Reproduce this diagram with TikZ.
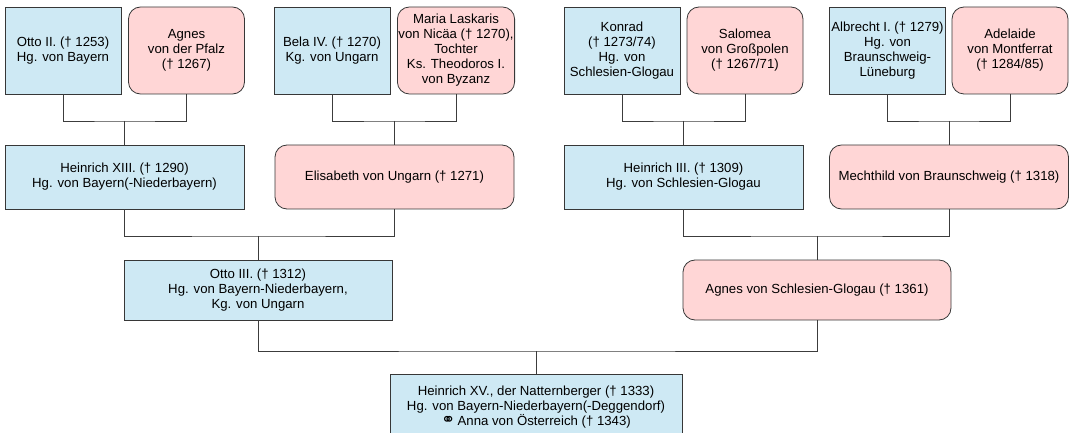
\documentclass[tikz,border=0pt]{standalone}
\usepackage{fontspec}
\setmainfont{Liberation Sans}
\newfontfamily\symfont{DejaVu Sans}
\definecolor{manfill}{RGB}{206,233,244}
\definecolor{womanfill}{RGB}{255,214,214}
\definecolor{boxline}{RGB}{55,55,55}
\definecolor{linkline}{RGB}{60,60,60}
\begin{document}
\begin{tikzpicture}[x=1pt,y=-1pt,
        font=\fontsize{13.2}{15}\selectfont,
        man/.style 2 args={draw=boxline, line width=0.8pt, fill=manfill, align=center,
            inner sep=1pt, minimum width=#1, minimum height=#2},
        woman/.style 2 args={man={#1}{#2}, fill=womanfill, rounded corners=12pt},
        link/.style={draw=linkline, line width=0.9pt}]
            \useasboundingbox (0,0) rectangle (1072,433);

            % grandparents
            \node[man={116pt}{87pt}] (OttoII) at (63,50.5) {Otto II. (\textdagger{} 1253)\\Hg. von Bayern};
            \node[woman={116pt}{87pt}] (AgnesP) at (186.5,50.5) {Agnes\\von der Pfalz\\(\textdagger{} 1267)};
            \node[man={116pt}{87pt}] (BelaIV) at (332,50.5) {Bela IV. (\textdagger{} 1270)\\Kg. von Ungarn};
            \node[woman={116pt}{87pt}] (MariaL) at (456,50.5) {Maria Laskaris\\von Nicäa (\textdagger{} 1270),\\Tochter\\Ks. Theodoros I.\\von Byzanz};
            \node[man={116pt}{87pt}] (Konrad) at (622,50.5) {Konrad\\(\textdagger{} 1273/74)\\Hg. von\\Schlesien-Glogau};
            \node[woman={116pt}{87pt}] (Salomea) at (745,50.5) {Salomea\\von Großpolen\\(\textdagger{} 1267/71)};
            \node[man={116pt}{87pt}] (AlbrechtI) at (887.5,50.5) {Albrecht I. (\textdagger{} 1279)\\Hg. von\\Braunschweig-\\Lüneburg};
            \node[woman={116pt}{87pt}] (Adelaide) at (1010,50.5) {Adelaide\\von Montferrat\\(\textdagger{} 1284/85)};

            % parents
            \node[man={239pt}{64pt}] (HeinrichXIII) at (124.5,177) {Heinrich XIII. (\textdagger{} 1290)\\Hg. von Bayern(-Niederbayern)};
            \node[woman={239pt}{64pt}] (Elisabeth) at (394.5,177) {Elisabeth von Ungarn (\textdagger{} 1271)};
            \node[man={239pt}{64pt}] (HeinrichIII) at (683.5,177) {Heinrich III. (\textdagger{} 1309)\\Hg. von Schlesien-Glogau};
            \node[woman={239pt}{64pt}] (Mechthild) at (949,177) {Mechthild von Braunschweig (\textdagger{} 1318)};

            \node[man={268pt}{60pt}] (OttoIII) at (258,290) {Otto III. (\textdagger{} 1312)\\Hg. von Bayern-Niederbayern,\\Kg. von Ungarn};
            \node[woman={268pt}{60pt}] (AgnesSG) at (817,290) {Agnes von Schlesien-Glogau (\textdagger{} 1361)};

            \node[man={292pt}{66pt}] (HeinrichXV) at (536,407) {Heinrich XV., der Natternberger (\textdagger{} 1333)\\Hg. von Bayern-Niederbayern(-Deggendorf)\\{\symfont\fontsize{17}{15}\selectfont ⚭}\,Anna von Österreich (\textdagger{} 1343)};

            % junctions
            \coordinate (J1) at (124.5,121); \coordinate (J2) at (394.5,121);
            \coordinate (J3) at (683.5,121); \coordinate (J4) at (949,121);
            \coordinate (J5) at (258,236); \coordinate (J6) at (817,236);
            \coordinate (J7) at (536,351);

            \draw[link] (OttoII) |- (J1) -| (AgnesP); \draw[link] (J1) -- (HeinrichXIII);
            \draw[link] (BelaIV) |- (J2) -| (MariaL); \draw[link] (J2) -- (Elisabeth);
            \draw[link] (Konrad) |- (J3) -| (Salomea); \draw[link] (J3) -- (HeinrichIII);
            \draw[link] (AlbrechtI) |- (J4) -| (Adelaide); \draw[link] (J4) -- (Mechthild);
            \draw[link] (HeinrichXIII) |- (J5) -| (Elisabeth); \draw[link] (J5) -- (OttoIII);
            \draw[link] (HeinrichIII) |- (J6) -| (Mechthild); \draw[link] (J6) -- (AgnesSG);
            \draw[link] (OttoIII) |- (J7) -| (AgnesSG); \draw[link] (J7) -- (HeinrichXV);
        \end{tikzpicture}
\end{document}
